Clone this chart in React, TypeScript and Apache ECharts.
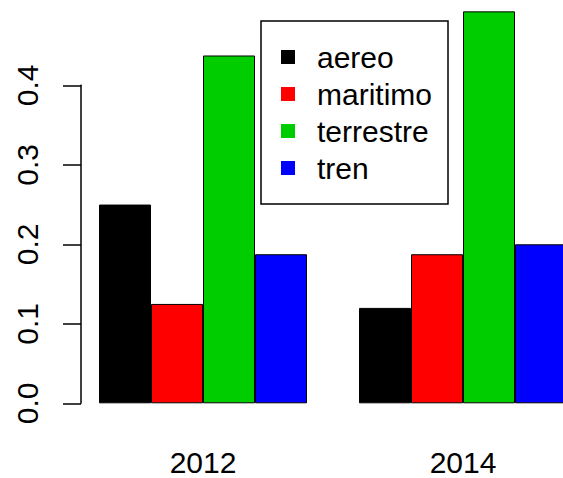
import React, { useEffect, useRef } from "react";
import * as echarts from "echarts";

const years = ["2012", "2014"];
const modes = ["aereo", "maritimo", "terrestre", "tren"];
const aereo = [0.25, 0.12];
const maritimo = [0.125, 0.1875];
const terrestre = [0.4375, 0.493];
const tren = [0.1875, 0.2];
const yTicks = [0, 0.1, 0.2, 0.3, 0.4];
const colors = ["#000000", "#FF0000", "#00CD00", "#0000FF"];

const FONT = "'Liberation Sans', Arial, Helvetica, sans-serif";

export default function App() {
  const ref = useRef<HTMLDivElement>(null);
  useEffect(() => {
    document.body.style.margin = "0";
    const chart = echarts.init(ref.current!, null, { renderer: "svg" });
    const values = [aereo, maritimo, terrestre, tren];
    chart.setOption({
      animation: false,
      backgroundColor: "#ffffff",
      textStyle: { fontFamily: FONT },
      grid: { left: 203, width: 260, top: 85.3, bottom: 74.7, containLabel: false },
      xAxis: {
        type: "category",
        data: years,
        boundaryGap: false,
        axisLine: { show: false },
        axisTick: { show: false },
        axisLabel: { fontSize: 30, color: "#000", margin: 44, fontFamily: FONT },
      },
      yAxis: {
        type: "value",
        min: yTicks[0],
        max: yTicks[yTicks.length - 1],
        interval: 0.1,
        offset: 122,
        splitLine: { show: false },
        axisLine: { show: true, lineStyle: { color: "#000", width: 1.5 } },
        axisTick: { show: true, length: 18, lineStyle: { color: "#000", width: 1.5 } },
        axisLabel: {
          rotate: 90,
          fontSize: 30,
          color: "#000",
          margin: 39,
          fontFamily: FONT,
          formatter: (v: number) => v.toFixed(1),
        },
      },
      legend: {
        orient: "vertical",
        left: 261,
        top: 21,
        padding: [21, 16, 21, 20],
        borderColor: "#000",
        borderWidth: 1.5,
        backgroundColor: "#fff",
        itemWidth: 14,
        itemHeight: 14,
        itemGap: 7,
        icon: "rect",
        itemStyle: { borderWidth: 0 },
        textStyle: { fontSize: 30, color: "#000", lineHeight: 30, padding: [0, 0, 0, 17], fontFamily: FONT },
        data: modes,
      },
      series: modes.map((m, i) => ({
        name: m,
        type: "bar",
        data: values[i],
        barWidth: 52,
        barGap: "0%",
        clip: false,
        itemStyle: { color: colors[i], borderColor: "#000", borderWidth: 1 },
      })),
    });
    return () => chart.dispose();
  }, []);
  return <div ref={ref} style={{ width: 563, height: 478 }} />;
}
